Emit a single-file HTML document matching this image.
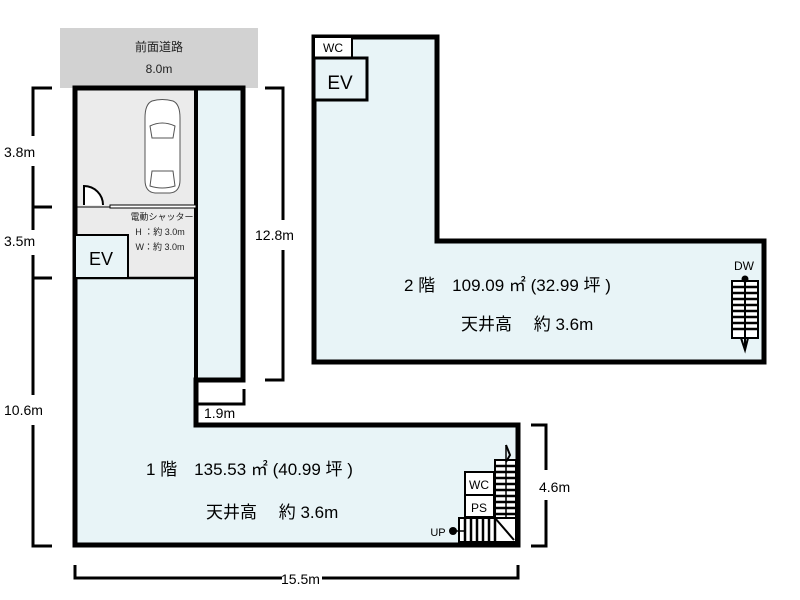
<!DOCTYPE html>
<html><head><meta charset="utf-8"><style>
html,body{margin:0;padding:0;background:#fff;}
svg{display:block;font-family:"Liberation Sans","Noto Sans CJK JP",sans-serif;}
</style></head><body>
<svg width="800" height="600" viewBox="0 0 800 600" xmlns="http://www.w3.org/2000/svg">
<rect width="800" height="600" fill="#fff"/>
<rect x="60" y="28" width="198" height="60" fill="#d2d2d2"/>
<text x="159" y="51" font-size="12" text-anchor="middle" fill="#222">前面道路</text>
<text x="159" y="73" font-size="12" text-anchor="middle" fill="#222">8.0m</text>

<polygon points="75,88 243,88 243,380 196,380 196,425 518,425 518,545 75,545" fill="#e8f4f7"/>
<rect x="75" y="88" width="121" height="190" fill="#ebebeb"/>
<rect x="196" y="88" width="47" height="292" fill="#e8f4f7" stroke="#000" stroke-width="4"/>
<polygon points="75,88 243,88 243,380 196,380 196,425 518,425 518,545 75,545" fill="none" stroke="#000" stroke-width="5"/>
<line x1="75" y1="207" x2="196" y2="207" stroke="#000" stroke-width="1"/>
<rect x="110" y="205" width="86" height="3" fill="#fff" stroke="#000" stroke-width="1"/>
<path d="M84,205 L84,186 A19,19 0 0 1 103,205" fill="#fff" stroke="#000" stroke-width="2"/>
<line x1="75" y1="278" x2="196" y2="278" stroke="#000" stroke-width="2.5"/>
<rect x="75" y="235" width="53" height="43" fill="#e8f4f7" stroke="#000" stroke-width="2"/>
<text x="101" y="265" font-size="18" text-anchor="middle">EV</text>
<text x="162" y="220" font-size="9" text-anchor="middle" fill="#222">電動シャッター</text>
<text x="160" y="235" font-size="9" text-anchor="middle" fill="#222">H ：約 3.0m</text>
<text x="160" y="250" font-size="9" text-anchor="middle" fill="#222">W：約 3.0m</text>
<g fill="#fff" stroke="#555" stroke-width="1">
<path d="M152,101 Q162,98 173,101 Q180,104 180,118 L180,180 Q180,192 170,193 L155,193 Q145,192 145,180 L145,118 Q145,104 152,101Z"/>
<path d="M150,126 Q162,120 175,126 L173,138 L152,138Z"/>
<path d="M152,171 L173,171 L175,186 Q162,190 150,186Z"/>
</g>
<rect x="465" y="472" width="29" height="23" fill="#fff" stroke="#000" stroke-width="2"/>
<text x="479" y="489" font-size="12" text-anchor="middle">WC</text>
<rect x="465" y="495" width="29" height="22" fill="#fff" stroke="#000" stroke-width="2"/>
<text x="479" y="512" font-size="12" text-anchor="middle">PS</text>
<rect x="495" y="460" width="21" height="80" fill="#fff" stroke="#000" stroke-width="2"/>
<g stroke="#000" stroke-width="2.5">
<line x1="495" y1="466" x2="516" y2="466"/><line x1="495" y1="472" x2="516" y2="472"/><line x1="495" y1="478" x2="516" y2="478"/><line x1="495" y1="484" x2="516" y2="484"/><line x1="495" y1="490" x2="516" y2="490"/><line x1="495" y1="496" x2="516" y2="496"/><line x1="495" y1="502" x2="516" y2="502"/><line x1="495" y1="508" x2="516" y2="508"/><line x1="495" y1="514" x2="516" y2="514"/>
</g>
<rect x="459" y="518" width="57" height="24" fill="#fff" stroke="#000" stroke-width="2"/>
<g stroke="#000" stroke-width="2.5">
<line x1="465" y1="518" x2="465" y2="542"/><line x1="471" y1="518" x2="471" y2="542"/><line x1="477" y1="518" x2="477" y2="542"/><line x1="483" y1="518" x2="483" y2="542"/><line x1="489" y1="518" x2="489" y2="542"/><line x1="495" y1="518" x2="495" y2="542"/>
</g>
<line x1="495" y1="518" x2="514" y2="540" stroke="#000" stroke-width="2"/>
<line x1="506" y1="445" x2="506" y2="518" stroke="#000" stroke-width="1.5"/>
<path d="M506,445 L510,455 L506,462" fill="none" stroke="#000" stroke-width="2"/>
<circle cx="453" cy="531" r="4" fill="#000"/>
<line x1="453" y1="531" x2="465" y2="531" stroke="#000" stroke-width="1.5"/>
<text x="438" y="536" font-size="11" text-anchor="middle">UP</text>
<text x="146" y="475" font-size="17">1 階　135.53 ㎡ (40.99 坪 )</text>
<text x="206" y="518" font-size="17">天井高　 約 3.6m</text>

<polygon points="314,37 437,37 437,241 764,241 764,362 314,362" fill="#e8f4f7" stroke="#000" stroke-width="5"/>
<rect x="314" y="37" width="38" height="21" fill="#fff" stroke="#000" stroke-width="2"/>
<text x="333" y="52" font-size="12" text-anchor="middle">WC</text>
<rect x="314" y="58" width="53" height="42" fill="#e8f4f7" stroke="#000" stroke-width="3"/>
<text x="340" y="89" font-size="19" text-anchor="middle">EV</text>
<text x="744" y="270" font-size="12" text-anchor="middle">DW</text>
<rect x="732" y="281" width="26" height="57" fill="#fff" stroke="#000" stroke-width="2"/>
<g stroke="#000" stroke-width="2.5">
<line x1="732" y1="287" x2="758" y2="287"/><line x1="732" y1="293" x2="758" y2="293"/><line x1="732" y1="299" x2="758" y2="299"/><line x1="732" y1="305" x2="758" y2="305"/><line x1="732" y1="311" x2="758" y2="311"/><line x1="732" y1="317" x2="758" y2="317"/><line x1="732" y1="323" x2="758" y2="323"/><line x1="732" y1="329" x2="758" y2="329"/>
</g>
<line x1="745" y1="278" x2="745" y2="346" stroke="#000" stroke-width="2"/>
<circle cx="745" cy="279" r="3.5" fill="#000"/>
<path d="M741,338 L745,350 L748,338" fill="none" stroke="#000" stroke-width="2"/>
<text x="404" y="291" font-size="17">2 階　109.09 ㎡ (32.99 坪 )</text>
<text x="461" y="330" font-size="17">天井高　 約 3.6m</text>

<g stroke="#000" stroke-width="3" fill="none">
<path d="M52,88 L33,88 L33,136"/>
<line x1="33" y1="166" x2="33" y2="230"/>
<line x1="33" y1="207" x2="52" y2="207"/>
<line x1="33" y1="255" x2="33" y2="395"/>
<line x1="33" y1="278" x2="52" y2="278"/>
<path d="M33,425 L33,546 L52,546"/>
<path d="M265,88 L283,88 L283,220"/>
<path d="M283,250 L283,380 L265,380"/>
<path d="M531,425 L546,425 L546,470"/>
<path d="M546,500 L546,546 L531,546"/>
<path d="M75,565 L75,578 L282,578"/>
<path d="M322,578 L518,578 L518,565"/>
<path d="M196,404 L244,404 L244,389"/>
</g>
<g font-size="14" fill="#000">
<text x="4" y="157">3.8m</text>
<text x="4" y="246">3.5m</text>
<text x="4" y="415">10.6m</text>
<text x="255" y="240">12.8m</text>
<text x="204" y="418">1.9m</text>
<text x="539" y="492">4.6m</text>
<text x="281" y="584">15.5m</text>
</g>
</svg>
</body></html>
